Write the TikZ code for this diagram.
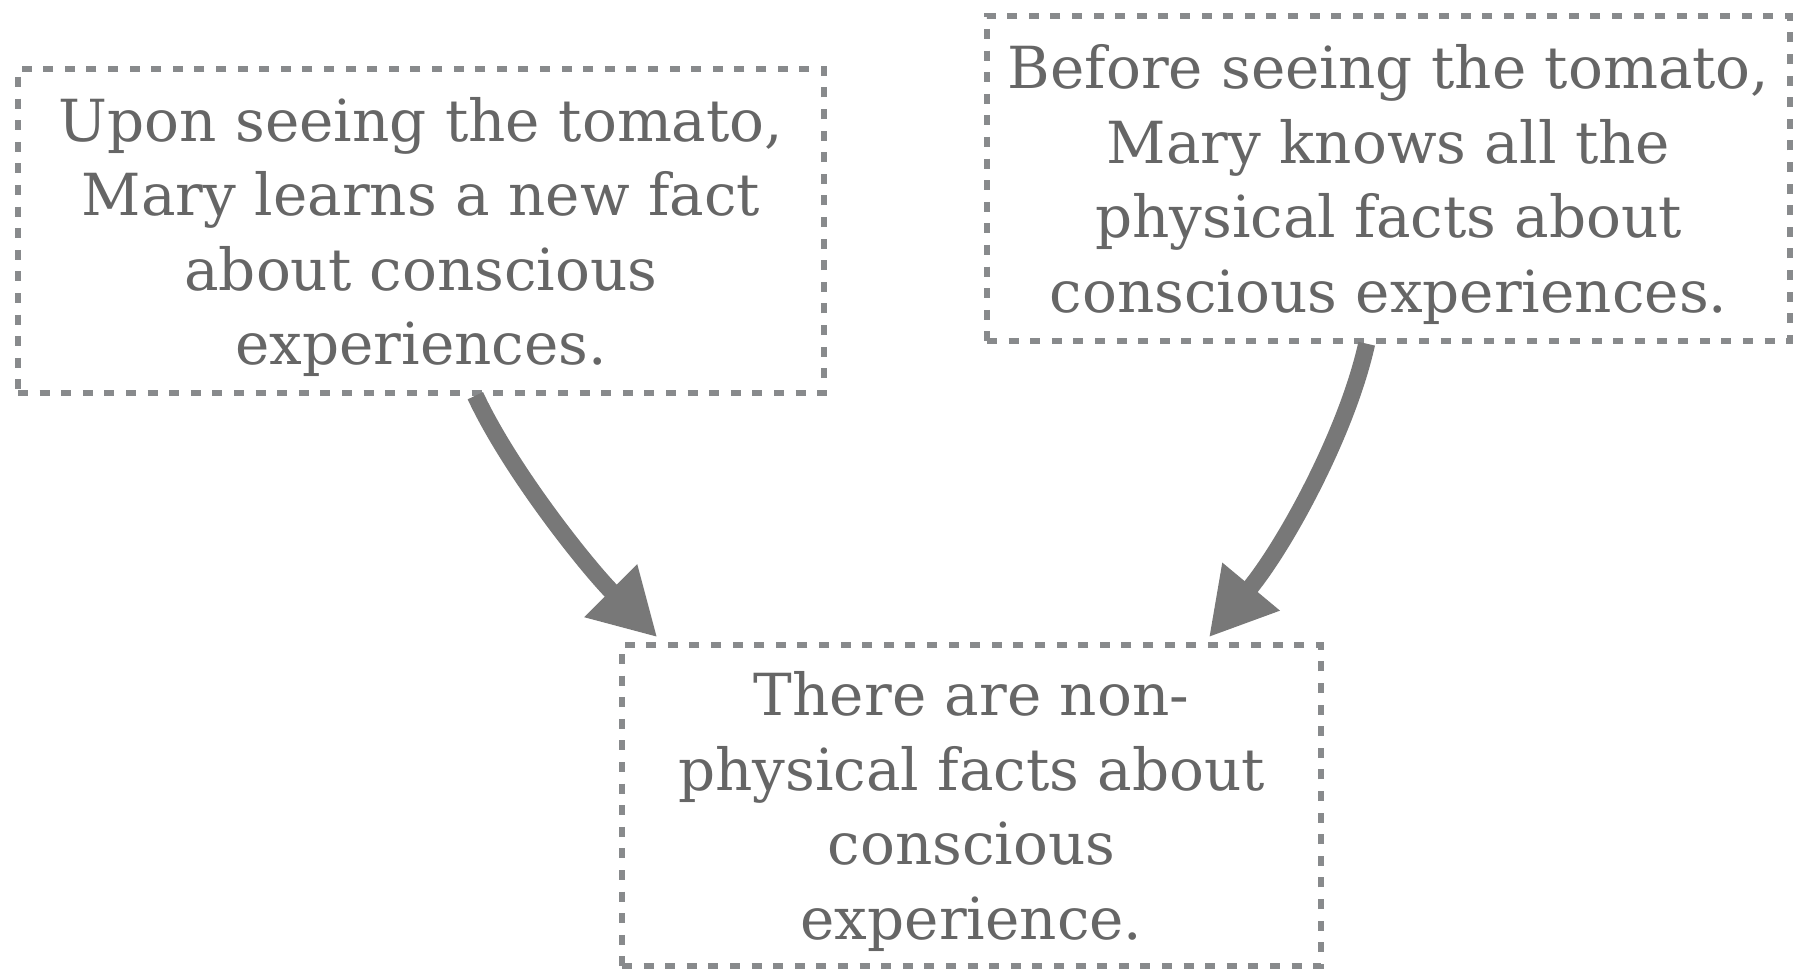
\documentclass[tikz,border=0pt]{standalone}
\usepackage{fontspec}
\setmainfont{DejaVu Serif}
\usetikzlibrary{arrows.meta,calc}
\definecolor{txtgray}{HTML}{666666}
\definecolor{boxgray}{HTML}{888A8C}
\definecolor{arrgray}{HTML}{787878}
% lines of a box, set a little low
\newcommand{\claimtext}[1]{\raisebox{-3.5pt}[\height][\depth]{\begin{tabular}{@{}c@{}}#1\end{tabular}}}
\tikzset{
  claim/.style={draw=boxgray,line width=2.7pt,dash pattern=on 5pt off 5.8pt,
    text=txtgray,inner sep=0pt,font=\fontsize{29}{37.3}\selectfont}, % premise / conclusion box
  infer/.style={-{Triangle[length=33pt,width=35pt]},arrgray,line width=8.5pt},
}

\begin{document}
\begin{tikzpicture}[x=0.5pt,y=-0.5pt]
  \useasboundingbox (0,0) rectangle (1796,969);
  \node[claim,minimum width=403pt,minimum height=162pt] (learns) at (421,231)
    {\claimtext{Upon seeing the tomato,\\Mary learns a new fact\\about conscious\\experiences.}};
  \node[claim,minimum width=401.5pt,minimum height=162.5pt] (knows) at (1388.5,178.5)
    {\claimtext{Before seeing the tomato,\\Mary knows all the\\physical facts about\\conscious experiences.}};
  \node[claim,minimum width=349.5pt,minimum height=160.5pt] (nonphys) at (971.5,805.5)
    {\claimtext{There are non-\\physical facts about\\conscious\\experience.}};
  % the two inferences
  \draw[infer] ($(learns.south west)!0.567!(learns.south east)$)
    .. controls +(35,75) and +(-70,-70) .. ($(nonphys.north west)!0.054!(nonphys.north east)+(0,-5)$);
  \draw[infer] ($(knows.south west)!0.473!(knows.south east)$)
    .. controls +(-20,90) and +(75,-90) .. ($(nonphys.north west)!0.837!(nonphys.north east)+(0,-5)$);
\end{tikzpicture}
\end{document}
